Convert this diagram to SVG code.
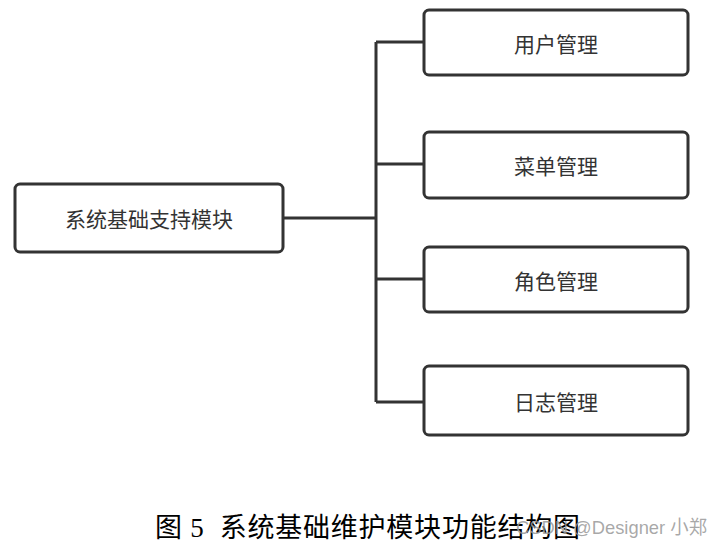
<svg xmlns="http://www.w3.org/2000/svg" width="721" height="547" viewBox="0 0 721 547">
<style>
.box{fill:#fff;stroke:#333;stroke-width:3}
.lbl{font-family:"Noto Sans CJK SC",sans-serif;font-size:21px;fill:#333;text-anchor:middle;dominant-baseline:central}
.con{fill:none;stroke:#333;stroke-width:3}
.cap{font-family:"Liberation Serif","Noto Sans CJK SC",serif;font-size:27px;fill:#000}
.wm{font-family:"Liberation Sans","Noto Sans CJK SC",sans-serif;font-size:19px;fill:#999;fill-opacity:0.85}
</style>
<rect width="721" height="547" fill="#fff"/>
<g id="connectors">
<path class="con" d="M284 218 H376 M376 42 V402 M376 42 H424 M376 164 H424 M376 279 H424 M376 402 H424"/>
</g>
<g id="root"><rect class="box" x="15" y="184" width="268" height="68" rx="5"/><text class="lbl" x="149" y="218">系统基础支持模块</text></g>
<g id="user"><rect class="box" x="424" y="10" width="264" height="65" rx="5"/><text class="lbl" x="556" y="42.5">用户管理</text></g>
<g id="menu"><rect class="box" x="424" y="132" width="264" height="66" rx="5"/><text class="lbl" x="556" y="165">菜单管理</text></g>
<g id="role"><rect class="box" x="424" y="247" width="264" height="65" rx="5"/><text class="lbl" x="556" y="279.5">角色管理</text></g>
<g id="log"><rect class="box" x="424" y="366" width="264" height="69" rx="5"/><text class="lbl" x="556" y="401">日志管理</text></g>
<text class="cap" x="155" y="537" xml:space="preserve" textLength="425" lengthAdjust="spacing">图 5  系统基础维护模块功能结构图</text>
<text class="wm" x="516" y="534" textLength="191" lengthAdjust="spacingAndGlyphs">CSDN @Designer 小郑</text>
</svg>
